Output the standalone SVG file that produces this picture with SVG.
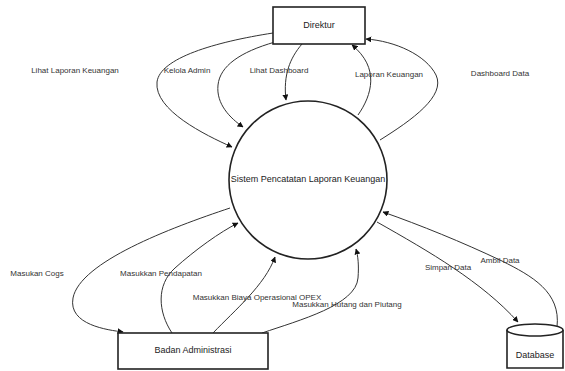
<svg xmlns="http://www.w3.org/2000/svg" width="565" height="371" viewBox="0 0 565 371">
<defs>
<marker id="arr" viewBox="0 0 10 10" refX="9" refY="5" markerWidth="6" markerHeight="6" orient="auto" markerUnits="userSpaceOnUse">
<path d="M0,0 L10,5 L0,10 Z" fill="#111"/>
</marker>
</defs>
<style>
.node{fill:#fff;stroke:#222;stroke-width:1.6}
.edge{fill:none;stroke:#333;stroke-width:1}
.lbl{font-family:"Liberation Sans",Arial,sans-serif;font-size:8px;fill:#333;text-anchor:middle;dominant-baseline:middle}
.nt{font-family:"Liberation Sans",Arial,sans-serif;font-size:9px;fill:#222;text-anchor:middle;dominant-baseline:middle}
</style>
<rect width="565" height="371" fill="#fff"/>
<g id="connectors">
<path class="edge" d="M273,33 C215,42 160,58 157,82 C154,110 205,135 232,147" marker-end="url(#arr)"/>
<path class="edge" d="M275,42 C240,52 220,66 218,85 C216,104 230,118 243,127" marker-end="url(#arr)"/>
<path class="edge" d="M302,44 C290,58 283,75 286,100" marker-end="url(#arr)"/>
<path class="edge" d="M358,115 C372,95 380,68 352,45" marker-end="url(#arr)"/>
<path class="edge" d="M380,140 C412,120 446,96 436,75 C426,55 395,41 366,39" marker-end="url(#arr)"/>
<path class="edge" d="M230,208 C170,228 80,262 73,298 C68,325 108,330 123,332" marker-end="url(#arr)"/>
<path class="edge" d="M172,333 C158,312 156,285 175,268 C195,250 220,232 238,223" marker-end="url(#arr)"/>
<path class="edge" d="M213,333 C235,310 265,285 275,257" marker-end="url(#arr)"/>
<path class="edge" d="M262,333 C300,320 356,305 358,278 C359,265 358,256 356,249" marker-end="url(#arr)"/>
<path class="edge" d="M377,222 C430,252 482,282 518,322" marker-end="url(#arr)"/>
<path class="edge" d="M557,327 C561,292 532,276 502,261 C462,242 420,225 383,212" marker-end="url(#arr)"/>
</g>
<g id="direktur">
<rect class="node" x="273" y="7" width="92" height="37"/>
<text class="nt" x="319" y="26">Direktur</text>
</g>
<g id="sistem">
<circle class="node" cx="308" cy="180" r="79"/>
<text class="nt" x="308" y="180">Sistem Pencatatan Laporan Keuangan</text>
</g>
<g id="badan">
<rect class="node" x="118" y="333" width="150" height="36"/>
<text class="nt" x="193" y="351">Badan Administrasi</text>
</g>
<g id="database">
<path class="node" d="M507,330 L507,368 L563,368 L563,330"/>
<ellipse class="node" cx="535" cy="330" rx="28" ry="6"/>
<text class="nt" x="535" y="356">Database</text>
</g>
<g id="labels">
<text class="lbl" x="75" y="71">Lihat Laporan Keuangan</text>
<text class="lbl" x="187" y="71">Kelola Admin</text>
<text class="lbl" x="279" y="71">Lihat Dashboard</text>
<text class="lbl" x="389" y="75">Laporan Keuangan</text>
<text class="lbl" x="500" y="74">Dashboard Data</text>
<text class="lbl" x="37" y="274">Masukan Cogs</text>
<text class="lbl" x="161" y="274">Masukkan Pendapatan</text>
<text class="lbl" x="257" y="298">Masukkan Biaya Operasional OPEX</text>
<text class="lbl" x="347" y="305">Masukkan Hutang dan Piutang</text>
<text class="lbl" x="448" y="268">Simpan Data</text>
<text class="lbl" x="500" y="261">Ambil Data</text>
</g>
</svg>
